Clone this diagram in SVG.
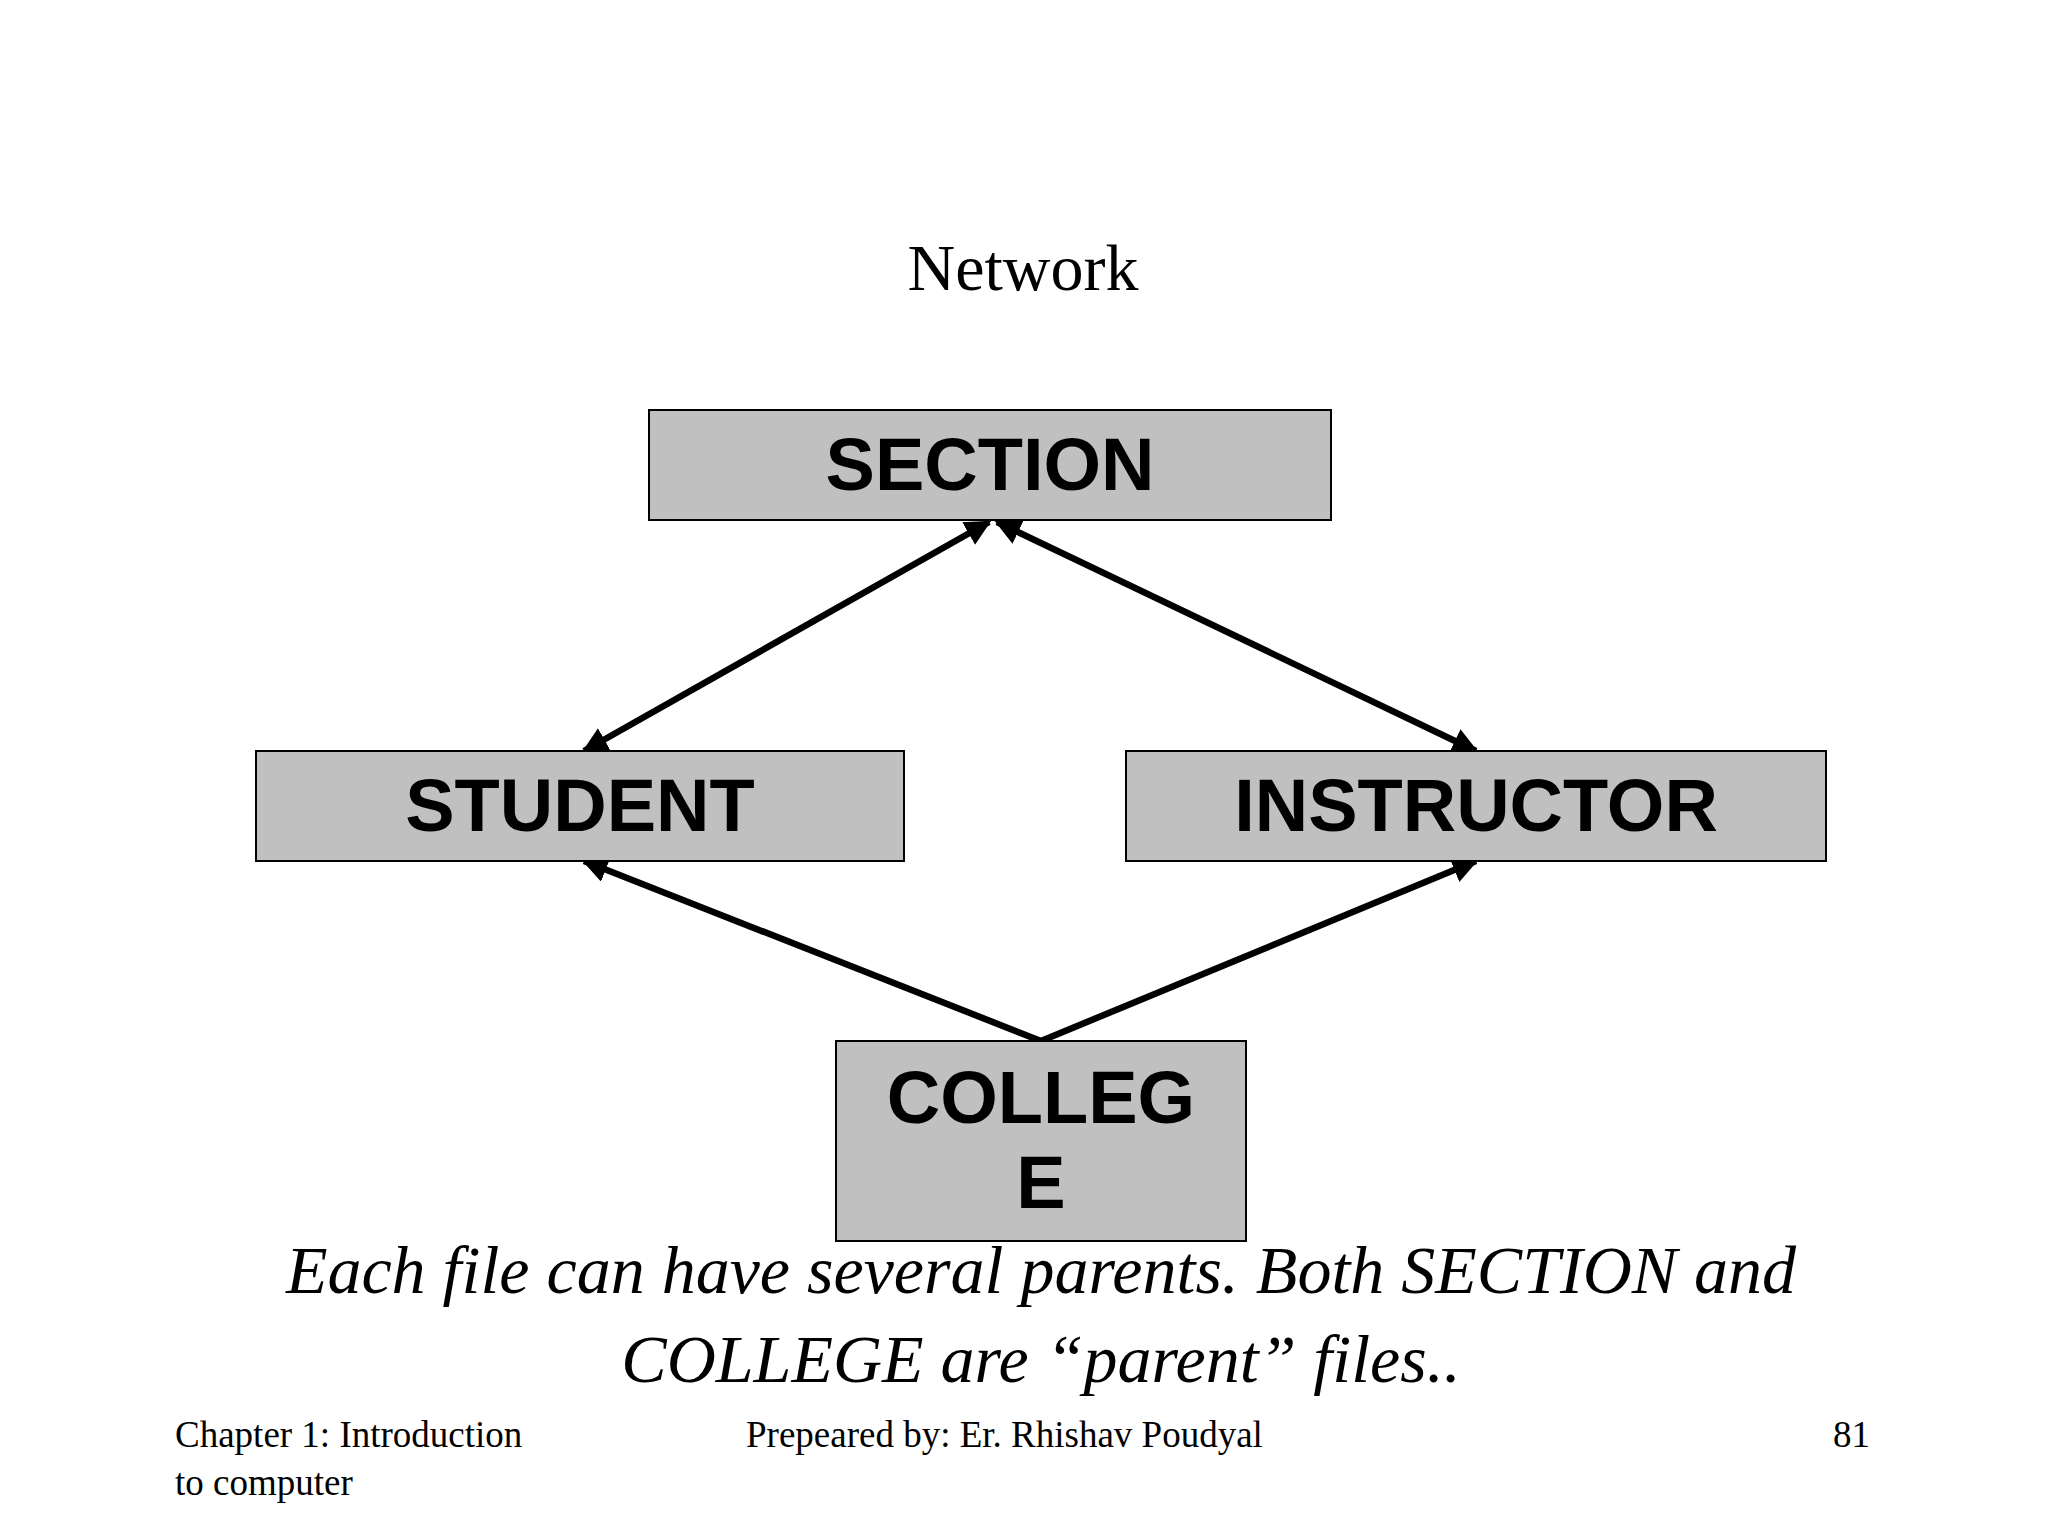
<svg xmlns="http://www.w3.org/2000/svg" width="2048" height="1536" viewBox="0 0 2048 1536">
<defs>
<style>
.box{fill:#c0c0c0;stroke:#000;stroke-width:2}
.lbl{font-family:"Liberation Sans",Arial,sans-serif;font-weight:bold;font-size:74px;text-anchor:middle;fill:#000}
.ser{font-family:"Liberation Serif","Times New Roman",serif;fill:#000}
.c{stroke:#000;stroke-width:6.5;fill:none;marker-end:url(#ah)}
</style>
<marker id="ah" viewBox="0 0 10 10" refX="9" refY="5" markerWidth="4" markerHeight="4" orient="auto-start-reverse" markerUnits="strokeWidth">
<path d="M0,0 L10,5 L0,10 Z" fill="#000"/>
</marker>
</defs>
<rect width="2048" height="1536" fill="#fff"/>
<text class="ser" x="1023" y="290" font-size="66" text-anchor="middle">Network</text>
<g id="connectors">
<line class="c" x1="989" y1="522" x2="584" y2="751" style="marker-start:url(#ah)"/>
<line class="c" x1="997" y1="522" x2="1476" y2="751" style="marker-start:url(#ah)"/>
<line class="c" x1="1041" y1="1041" x2="584" y2="861"/>
<line class="c" x1="1041" y1="1041" x2="1476" y2="861"/>
</g>
<g id="section"><rect class="box" x="649" y="410" width="682" height="110"/><text class="lbl" x="990" y="490">SECTION</text></g>
<g id="student"><rect class="box" x="256" y="751" width="648" height="110"/><text class="lbl" x="580" y="831">STUDENT</text></g>
<g id="instructor"><rect class="box" x="1126" y="751" width="700" height="110"/><text class="lbl" x="1476" y="831">INSTRUCTOR</text></g>
<g id="college"><rect class="box" x="836" y="1041" width="410" height="200"/><text class="lbl" x="1041" y="1123">COLLEG</text><text class="lbl" x="1041" y="1208">E</text></g>
<text class="ser" x="1041" y="1293" font-size="68" font-style="italic" text-anchor="middle">Each file can have several parents.  Both SECTION and</text>
<text class="ser" x="1041" y="1382" font-size="68" font-style="italic" text-anchor="middle">COLLEGE are “parent” files..</text>
<text class="ser" x="175" y="1447" font-size="37">Chapter 1: Introduction</text>
<text class="ser" x="175" y="1495" font-size="37">to computer</text>
<text class="ser" x="746" y="1447" font-size="37">Prepeared by: Er. Rhishav Poudyal</text>
<text class="ser" x="1870" y="1447" font-size="37" text-anchor="end">81</text>
</svg>
